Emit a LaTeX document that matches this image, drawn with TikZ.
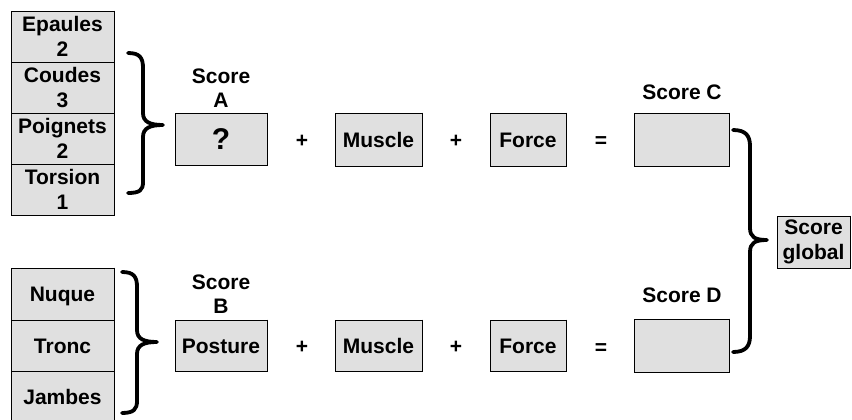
\documentclass[tikz,border=0pt]{standalone}
\usepackage{fontspec}
\setmainfont{Liberation Sans}
\definecolor{boxfill}{RGB}{224,224,224}
\begin{document}
\begin{tikzpicture}[x=1pt,y=-1pt,
  txt/.style={font=\fontsize{21}{24.5}\selectfont\bfseries, align=center, inner sep=0pt},
  one/.style={text height=17pt, text depth=2pt},
  gbox/.style={txt, draw=black, fill=boxfill, line width=0.9pt, minimum height=51pt},
  stackbox/.style={gbox, minimum width=103pt, minimum height=51pt},
  brace/.style={line width=3.8pt, line cap=round, line join=round}]
\useasboundingbox (0,0) rectangle (852,420);
\clip (0,0) rectangle (852,420);
% left upper stack
\node[stackbox] (ep) at (62.5,36.5) {Epaules\\2};
\node[stackbox] (co) at (62.5,87.5) {Coudes\\3};
\node[stackbox] (po) at (62.5,138.5) {Poignets\\2};
\node[stackbox] (to) at (62.5,189.5) {Torsion\\1};
% left lower stack
\node[stackbox, one, minimum height=52pt] (nu) at (62.5,294) {Nuque};
\node[stackbox, one] (tr) at (62.5,345.5) {Tronc};
\node[stackbox, one] (ja) at (62.5,396.5) {Jambes};
% upper row
\node[txt] (la) at (221,88) {Score\\A};
\node[gbox, minimum width=92pt, minimum height=52pt, text height=24pt, text depth=3pt, font=\fontsize{30}{32}\selectfont\bfseries] (sa) at (221,139) {?};
\node[txt, one] (p1) at (302,140) {+};
\node[gbox, one, minimum width=87pt, minimum height=53pt] (m1) at (378.5,139.5) {Muscle};
\node[txt, one] (p2) at (456,140) {+};
\node[gbox, one, minimum width=76pt, minimum height=53pt] (f1) at (528,139.5) {Force};
\node[txt, one] (e1) at (601,140) {=};
\node[txt] (lc) at (682,92) {Score C};
\node[gbox, minimum width=95pt, minimum height=53pt] (sc) at (681.5,139.5) {};
% lower row
\node[txt] (lb) at (221,294) {Score\\B};
\node[gbox, one, minimum width=92pt] (sb) at (221,345.5) {Posture};
\node[txt, one] (p3) at (302,346) {+};
\node[gbox, one, minimum width=87pt] (m2) at (378.5,345.5) {Muscle};
\node[txt, one] (p4) at (456,346) {+};
\node[gbox, one, minimum width=76pt] (f2) at (528,345.5) {Force};
\node[txt, one] (e2) at (601,347) {=};
\node[txt] (ld) at (682,295) {Score D};
\node[gbox, minimum width=95pt, minimum height=53pt] (sd) at (681.5,345.5) {};
% global
\node[gbox, minimum width=73pt, minimum height=52pt] (g) at (813.5,242) {Score\\global};
% shadow edges
\foreach \n in {ep,co,po,to,nu,tr,ja,sa,m1,f1,sc,sb,m2,f2,sd,g}
  \draw[line width=1.8pt] (\n.north east) -- (\n.south east) -- (\n.south west);
% braces
\draw[brace] (128,53) .. controls (140,53) and (143,58) .. (143,68) -- (143,113)
  .. controls (143,122) and (150,125) .. (163,125)
  .. controls (150,125) and (143,128) .. (143,137) -- (143,182)
  .. controls (143,190) and (140,193) .. (128,193);
\draw[brace] (122,272) .. controls (134,272) and (137,277) .. (137,287) -- (137,330)
  .. controls (137,339) and (144,342) .. (157,342)
  .. controls (144,342) and (137,345) .. (137,354) -- (137,401)
  .. controls (137,409) and (134,413) .. (122,413);
\draw[brace] (733,130) .. controls (746,130) and (750,136) .. (750,146) -- (750,228)
  .. controls (750,237) and (755,240) .. (767,240)
  .. controls (755,240) and (750,243) .. (750,252) -- (750,336)
  .. controls (750,346) and (746,352) .. (733,352);
\end{tikzpicture}
\end{document}
